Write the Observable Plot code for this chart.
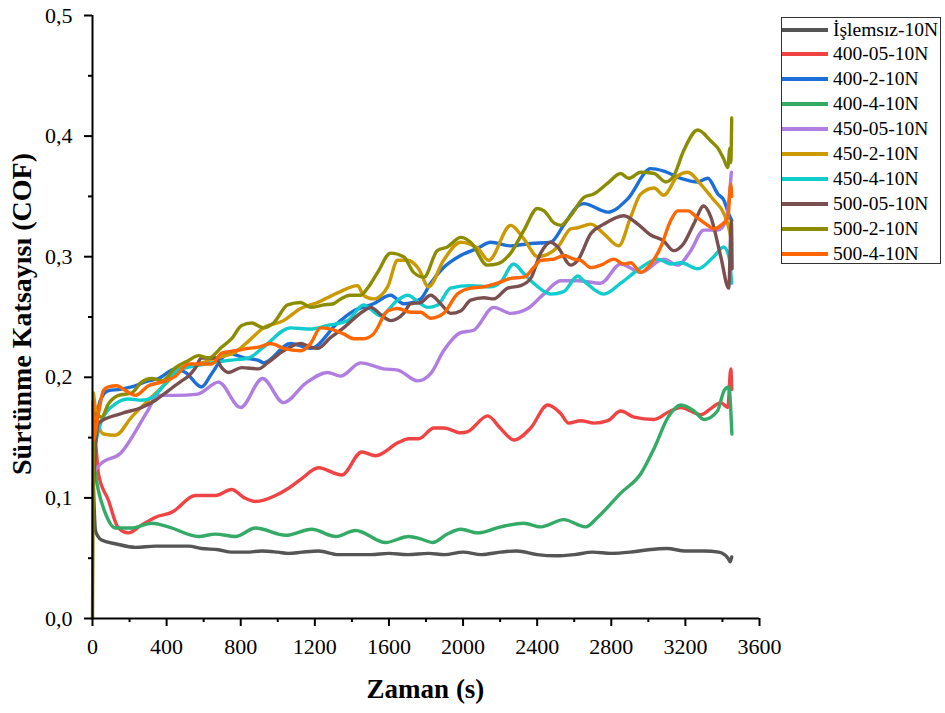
<!DOCTYPE html>
<html>
<head>
<meta charset="utf-8">
<script src="https://cdn.jsdelivr.net/npm/d3@7"></script>
<script src="https://cdn.jsdelivr.net/npm/@observablehq/plot@0.6"></script>
<style>
  html, body { margin: 0; padding: 0; background: #fff; }
  #wrap { position: relative; width: 945px; height: 713px; font-family: "Liberation Serif", "Times New Roman", serif; }
  #wrap svg { position: absolute; left: 0; top: 0; }
  .title { position: absolute; font-weight: bold; font-size: 27px; color: #000; white-space: nowrap; }
  #xtitle { left: 0; width: 851px; text-align: center; top: 674px; }
  #ytitle { left: 22px; top: 314px; transform: translate(-50%, -50%) rotate(-90deg); font-size: 28px; }
  #legend { position: absolute; left: 781px; top: 17px; width: 160px; height: 247px; border: 1px solid #333; box-sizing: border-box; background: #fff; }
  .item { position: absolute; left: 0; height: 25px; display: flex; align-items: center; font-size: 19.5px; color: #000; }
  .sw { width: 46px; height: 4px; margin-right: 5px; }
</style>
</head>
<body>
<div id="wrap">
  <div id="chart"></div>
  <div class="title" id="xtitle">Zaman (s)</div>
  <div class="title" id="ytitle">Sürtünme Katsayısı (COF)</div>
  <div id="legend"></div>
</div>
<script>
// Series names and colours
const seriesNames = ["İşlemsız-10N","400-05-10N","400-2-10N","400-4-10N","450-05-10N","450-2-10N","450-4-10N","500-05-10N","500-2-10N","500-4-10N"];
const seriesColors = ["#555555","#f04444","#1d6fd8","#33aa66","#b07ee0","#cc9900","#11cccc","#7a4f4f","#8c8c00","#ff6600"];

// Tick values
const xMajorTicks = [0,400,800,1200,1600,2000,2400,2800,3200,3600];
const xMinorTicks = [200,600,1000,1400,1800,2200,2600,3000,3400];
const yMajorTicks = [0,0.1,0.2,0.3,0.4,0.5];
const yMinorTicks = [0.05,0.15,0.25,0.35,0.45];

// [time (s), COF]
const islemsiz = [[5,0.11],[16,0.073],[30,0.068],[49,0.065],[124,0.062],[232,0.059],[340,0.060],[430,0.060],[518,0.060],[589,0.058],[680,0.057],[751,0.055],[830,0.055],[913,0.056],[1000,0.055],[1058,0.054],[1130,0.055],[1220,0.056],[1328,0.053],[1420,0.053],[1500,0.053],[1600,0.054],[1700,0.053],[1814,0.054],[1900,0.053],[2000,0.055],[2100,0.053],[2200,0.055],[2290,0.056],[2400,0.053],[2500,0.052],[2600,0.053],[2700,0.055],[2800,0.054],[2900,0.055],[3000,0.057],[3100,0.058],[3200,0.056],[3300,0.056],[3380,0.055],[3430,0.050],[3442,0.047],[3450,0.051]];
const s400_05 = [[5,0.155],[20,0.14],[32,0.12],[86,0.098],[140,0.075],[194,0.071],[260,0.077],[340,0.084],[427,0.088],[556,0.102],[664,0.102],[751,0.107],[820,0.100],[880,0.097],[988,0.102],[1058,0.108],[1129,0.116],[1220,0.125],[1345,0.119],[1453,0.138],[1528,0.135],[1652,0.146],[1706,0.149],[1760,0.149],[1843,0.158],[1897,0.158],[1987,0.154],[2025,0.155],[2133,0.168],[2200,0.158],[2275,0.148],[2365,0.158],[2457,0.177],[2527,0.170],[2570,0.162],[2635,0.164],[2707,0.162],[2781,0.164],[2851,0.172],[2923,0.167],[3031,0.165],[3107,0.171],[3175,0.175],[3283,0.169],[3337,0.174],[3391,0.179],[3429,0.175],[3445,0.207],[3450,0.19]];
const s400_2 = [[5,0.14],[20,0.16],[40,0.18],[86,0.189],[150,0.190],[211,0.192],[302,0.197],[356,0.199],[448,0.207],[502,0.204],[589,0.192],[643,0.203],[734,0.220],[820,0.216],[896,0.214],[923,0.212],[1069,0.228],[1177,0.224],[1323,0.245],[1409,0.255],[1517,0.261],[1609,0.268],[1679,0.261],[1771,0.265],[1825,0.278],[1895,0.291],[1987,0.301],[2079,0.307],[2149,0.312],[2257,0.309],[2365,0.311],[2473,0.312],[2543,0.326],[2619,0.342],[2651,0.344],[2781,0.337],[2889,0.348],[3013,0.373],[3083,0.371],[3175,0.365],[3267,0.362],[3321,0.365],[3375,0.352],[3407,0.347],[3435,0.335],[3450,0.33]];
const s400_4 = [[5,0.13],[32,0.106],[70,0.087],[124,0.075],[211,0.075],[319,0.079],[410,0.076],[572,0.068],[664,0.070],[772,0.068],[880,0.075],[1042,0.069],[1183,0.074],[1312,0.068],[1420,0.073],[1582,0.063],[1706,0.068],[1771,0.066],[1836,0.063],[1915,0.070],[1987,0.074],[2079,0.071],[2203,0.076],[2327,0.079],[2419,0.076],[2543,0.082],[2662,0.076],[2727,0.084],[2851,0.104],[2959,0.120],[3031,0.141],[3107,0.167],[3175,0.177],[3247,0.172],[3301,0.165],[3373,0.172],[3409,0.189],[3434,0.192],[3451,0.153]];
const s450_05 = [[10,0.122],[43,0.128],[151,0.137],[297,0.172],[351,0.185],[450,0.185],[567,0.186],[680,0.196],[799,0.175],[918,0.199],[1031,0.179],[1150,0.195],[1269,0.204],[1339,0.201],[1447,0.212],[1571,0.207],[1647,0.206],[1755,0.197],[1825,0.203],[1895,0.222],[1987,0.237],[2057,0.239],[2165,0.258],[2257,0.253],[2349,0.257],[2435,0.269],[2527,0.280],[2619,0.280],[2743,0.278],[2851,0.294],[2959,0.287],[3083,0.298],[3159,0.293],[3229,0.305],[3299,0.322],[3375,0.322],[3420,0.33],[3448,0.37]];
const s450_2 = [[5,0.187],[20,0.17],[59,0.153],[124,0.152],[211,0.167],[302,0.181],[410,0.197],[481,0.208],[572,0.211],[664,0.216],[772,0.221],[842,0.230],[923,0.241],[1031,0.247],[1123,0.257],[1215,0.262],[1323,0.270],[1431,0.276],[1463,0.268],[1517,0.265],[1593,0.275],[1647,0.297],[1700,0.297],[1760,0.290],[1814,0.275],[1895,0.297],[1987,0.312],[2079,0.307],[2138,0.297],[2257,0.326],[2327,0.315],[2403,0.300],[2511,0.308],[2581,0.323],[2619,0.324],[2689,0.327],[2760,0.319],[2840,0.309],[2905,0.333],[2959,0.352],[3031,0.357],[3083,0.351],[3159,0.367],[3213,0.370],[3283,0.360],[3353,0.347],[3407,0.336],[3440,0.32],[3450,0.31]];
const s450_4 = [[8,0.14],[49,0.164],[124,0.178],[194,0.182],[265,0.181],[319,0.183],[394,0.195],[464,0.206],[610,0.211],[734,0.214],[842,0.216],[923,0.225],[1069,0.241],[1177,0.240],[1269,0.243],[1377,0.247],[1463,0.260],[1555,0.251],[1647,0.264],[1701,0.268],[1771,0.261],[1809,0.258],[1863,0.260],[1933,0.274],[2041,0.276],[2149,0.275],[2203,0.279],[2273,0.294],[2327,0.286],[2381,0.278],[2473,0.269],[2543,0.271],[2619,0.284],[2651,0.280],[2759,0.269],[2851,0.278],[2943,0.289],[3051,0.298],[3121,0.294],[3175,0.295],[3267,0.290],[3353,0.300],[3407,0.308],[3435,0.30],[3450,0.278]];
const s500_05 = [[5,0.11],[20,0.15],[32,0.162],[157,0.170],[265,0.175],[340,0.181],[410,0.189],[481,0.197],[518,0.201],[556,0.208],[589,0.216],[664,0.216],[697,0.208],[734,0.204],[805,0.208],[896,0.207],[945,0.212],[1031,0.222],[1123,0.228],[1177,0.225],[1215,0.224],[1285,0.233],[1355,0.241],[1463,0.255],[1501,0.258],[1571,0.250],[1609,0.247],[1679,0.253],[1717,0.261],[1771,0.262],[1825,0.268],[1879,0.261],[1933,0.253],[1987,0.255],[2041,0.264],[2113,0.266],[2165,0.265],[2241,0.274],[2311,0.276],[2365,0.282],[2419,0.303],[2473,0.312],[2511,0.308],[2581,0.293],[2619,0.297],[2689,0.319],[2760,0.327],[2867,0.334],[2943,0.327],[3013,0.318],[3083,0.313],[3137,0.305],[3191,0.311],[3245,0.327],[3299,0.342],[3337,0.333],[3391,0.300],[3434,0.274],[3448,0.33],[3452,0.29]];
const s500_2 = [[0,0.0],[8,0.17],[49,0.167],[86,0.178],[140,0.185],[211,0.187],[265,0.196],[319,0.199],[373,0.197],[448,0.208],[518,0.214],[572,0.218],[626,0.216],[697,0.225],[751,0.232],[805,0.243],[859,0.245],[923,0.241],[977,0.245],[1053,0.260],[1123,0.262],[1177,0.258],[1247,0.260],[1301,0.261],[1339,0.265],[1393,0.268],[1447,0.268],[1485,0.274],[1539,0.287],[1609,0.303],[1679,0.300],[1733,0.287],[1789,0.283],[1861,0.305],[1915,0.308],[1987,0.316],[2041,0.312],[2131,0.293],[2185,0.294],[2257,0.303],[2329,0.322],[2401,0.340],[2437,0.338],[2491,0.328],[2527,0.326],[2581,0.334],[2651,0.349],[2705,0.352],[2781,0.361],[2851,0.369],[2894,0.365],[2959,0.370],[3031,0.369],[3094,0.362],[3137,0.367],[3191,0.388],[3267,0.405],[3337,0.396],[3375,0.390],[3407,0.381],[3429,0.374],[3440,0.39],[3445,0.378],[3450,0.415]];
const s500_4 = [[3,0.18],[5,0.148],[32,0.170],[59,0.189],[86,0.192],[130,0.193],[178,0.189],[232,0.185],[302,0.193],[373,0.196],[448,0.201],[518,0.211],[589,0.211],[643,0.211],[697,0.220],[772,0.222],[842,0.224],[896,0.225],[961,0.228],[1031,0.224],[1123,0.222],[1177,0.228],[1231,0.241],[1285,0.240],[1355,0.236],[1409,0.232],[1463,0.232],[1517,0.236],[1593,0.255],[1647,0.257],[1717,0.254],[1771,0.254],[1825,0.249],[1895,0.253],[1969,0.269],[2041,0.274],[2113,0.275],[2185,0.278],[2257,0.282],[2329,0.283],[2381,0.291],[2419,0.297],[2491,0.298],[2545,0.301],[2599,0.298],[2635,0.297],[2689,0.291],[2743,0.293],[2815,0.298],[2867,0.294],[2905,0.295],[2959,0.287],[3013,0.294],[3067,0.308],[3121,0.330],[3159,0.338],[3213,0.338],[3267,0.332],[3321,0.326],[3353,0.323],[3391,0.326],[3429,0.332],[3445,0.36],[3450,0.35]];

const allSeries = [islemsiz, s400_05, s400_2, s400_4, s450_05, s450_2, s450_4, s500_05, s500_2, s500_4];

const fmtY = d => d.toFixed(1).replace(".", ",");

const lineMarks = allSeries.map((data, i) =>
  Plot.line(data, {x: d => d[0], y: d => d[1], stroke: seriesColors[i], strokeWidth: 3.4, strokeLinejoin: "round", strokeLinecap: "round", curve: "monotone-x"})
);

const chart = Plot.plot({
  width: 945,
  height: 713,
  marginLeft: 92,
  marginRight: 186,
  marginTop: 15,
  marginBottom: 95,
  style: {fontFamily: "'Liberation Serif', 'Times New Roman', serif", color: "#000", background: "transparent", overflow: "visible"},
  x: {domain: [0, 3600]},
  y: {domain: [0, 0.5]},
  marks: [
    ...lineMarks,
    Plot.axisX({ticks: xMajorTicks, tickSize: 8, tickPadding: 12, fontSize: 22, strokeWidth: 2, label: null, tickFormat: d => String(d)}),
    Plot.axisX({ticks: xMinorTicks, tickSize: 4, strokeWidth: 2, label: null, tickFormat: () => ""}),
    Plot.axisY({ticks: yMajorTicks, tickSize: 8, tickPadding: 12, fontSize: 22, strokeWidth: 2, label: null, tickFormat: fmtY}),
    Plot.axisY({ticks: yMinorTicks, tickSize: 4, strokeWidth: 2, label: null, tickFormat: () => ""}),
    Plot.ruleY([0], {stroke: "#000", strokeWidth: 2}),
    Plot.ruleX([0], {stroke: "#000", strokeWidth: 2})
  ]
});
document.getElementById("chart").appendChild(chart);

// Legend
const legend = document.getElementById("legend");
seriesNames.forEach((name, i) => {
  const item = document.createElement("div");
  item.className = "item";
  item.style.top = (i * 24.9 - 1) + "px";
  const sw = document.createElement("div");
  sw.className = "sw";
  sw.style.background = seriesColors[i];
  const tx = document.createElement("span");
  tx.textContent = name;
  item.appendChild(sw);
  item.appendChild(tx);
  legend.appendChild(item);
});
</script>
</body>
</html>
